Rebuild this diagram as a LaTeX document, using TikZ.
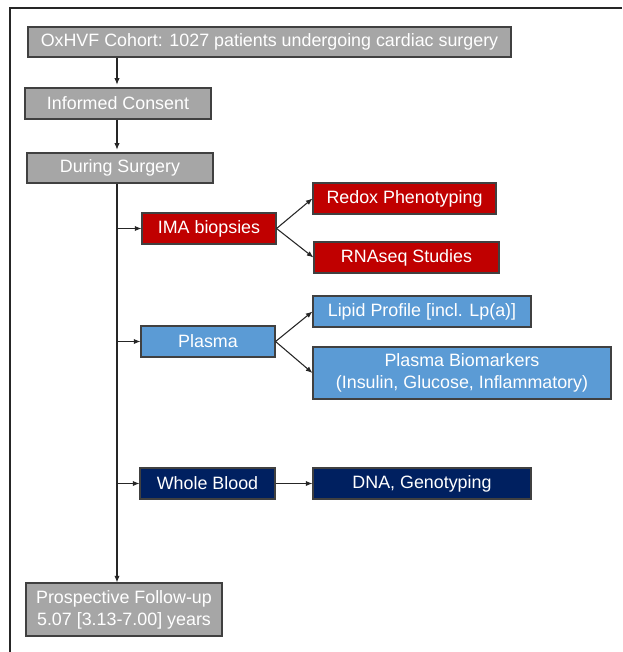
\documentclass[tikz,border=0pt]{standalone}
\usepackage{fontspec}
\setmainfont{Liberation Sans}
\usetikzlibrary{arrows.meta}
\definecolor{boxgray}{RGB}{166,166,166}
\definecolor{boxred}{RGB}{192,0,0}
\definecolor{boxblue}{RGB}{91,155,213}
\definecolor{boxnavy}{RGB}{0,32,96}
\definecolor{edgegray}{RGB}{64,64,64}
\tikzset{
  box/.style={draw=edgegray, line width=0.8, text=white, inner sep=0pt, align=center,
    font=\fontsize{13.4}{16.5}\selectfont},
  boxsize/.style 2 args={minimum width={#1*0.75pt}, minimum height={#2*0.75pt}},
  arr/.style={-{Latex[length=5pt,width=4pt]}, line width=0.8, draw=black!85},
}

\begin{document}
\begin{tikzpicture}[x=0.75pt,y=0.75pt,yscale=-1,xscale=1]
\useasboundingbox (0,0) rectangle (622,652);

%Frame
\draw [line width=1.6, draw=black!85]  (10,652) -- (10,8) -- (622,8) ;

% Text Node
\node [box, fill=boxgray, boxsize={483}{30}] (cohort) at (269.5,42) {OxHVF Cohort: 1027 patients undergoing cardiac surgery};
% Text Node
\node [box, fill=boxgray, boxsize={186}{31}] (consent) at (118,103.5) {Informed Consent};
% Text Node
\node [box, fill=boxgray, boxsize={186}{30}] (surgery) at (120,168) {During Surgery};
% Text Node
\node [box, fill=boxred, boxsize={134}{31}] (ima) at (209,228.5) {IMA biopsies};
% Text Node
\node [box, fill=boxred, boxsize={183}{31}] (redox) at (404.5,198.5) {Redox Phenotyping};
% Text Node
\node [box, fill=boxred, boxsize={185}{31}] (rnaseq) at (406.5,257.5) {RNAseq Studies};
% Text Node
\node [box, fill=boxblue, boxsize={134}{31}] (plasma) at (208,341.5) {Plasma};
% Text Node
\node [box, fill=boxblue, boxsize={218}{31}] (lipid) at (422,311.5) {Lipid Profile [incl. Lp(a)]};
% Text Node
\node [box, fill=boxblue, boxsize={298}{52}] (markers) at (462,373) {Plasma Biomarkers\\(Insulin, Glucose, Inflammatory)};
% Text Node
\node [box, fill=boxnavy, boxsize={135}{31}] (blood) at (207.5,483.5) {Whole Blood};
% Text Node
\node [box, fill=boxnavy, boxsize={218}{31}] (dna) at (422,483.5) {DNA, Genotyping};
% Text Node
\node [box, fill=boxgray, boxsize={196}{53}] (followup) at (124,609.5) {Prospective Follow-up\\5.07 [3.13-7.00] years};

\coordinate (trunk) at (117,0);

%Straight Lines
\draw [arr, shorten >=2]  (cohort.south -| trunk) -- (consent.north -| trunk) ;
\draw [arr, shorten >=2]  (consent.south -| trunk) -- (surgery.north -| trunk) ;
\draw [arr]  (surgery.south -| trunk) -- (followup.north -| trunk) ;
%Straight Lines
\draw [arr]  (ima.west -| trunk) -- (ima.west) ;
\draw [arr]  (plasma.west -| trunk) -- (plasma.west) ;
\draw [arr]  (blood.west -| trunk) -- (blood.west) ;
%Straight Lines
\draw [arr]  (ima.east) -- (redox.west) ;
\draw [arr]  (ima.east) -- (rnaseq.west) ;
\draw [arr]  (plasma.east) -- (lipid.west) ;
\draw [arr]  (plasma.east) -- (markers.west) ;
\draw [arr]  (blood.east) -- (dna.west) ;

\end{tikzpicture}
\end{document}
